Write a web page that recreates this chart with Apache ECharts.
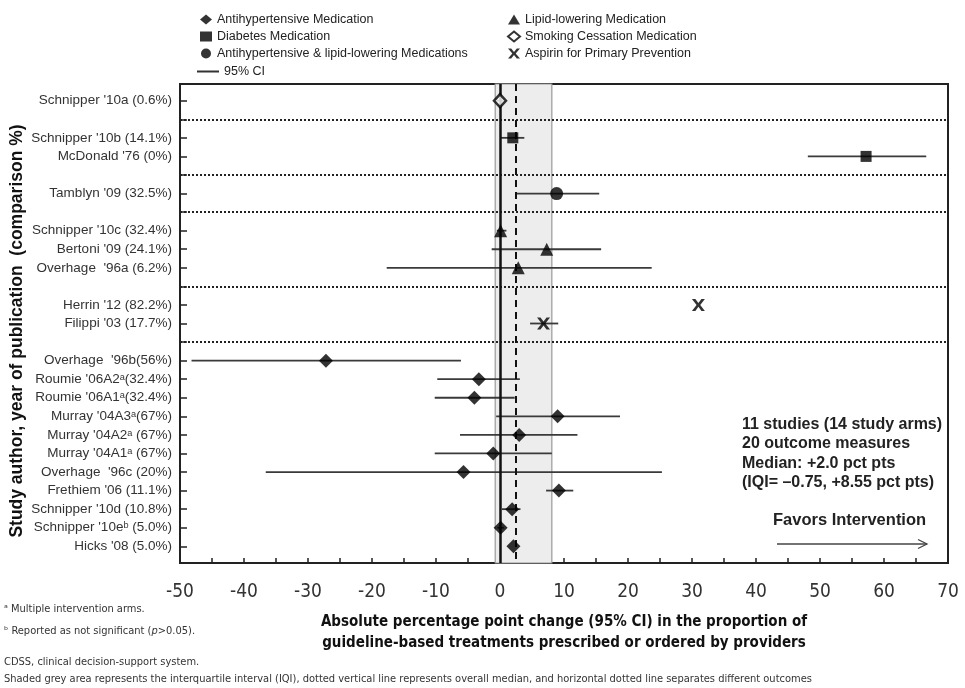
<!DOCTYPE html>
<html>
<head>
<meta charset="utf-8">
<script src="https://cdn.jsdelivr.net/npm/echarts@6/dist/echarts.min.js"></script>
<style>
html,body{margin:0;padding:0;background:#fff;}
#chart{width:965px;height:688px;}
</style>
</head>
<body>
<div id="chart"></div>
<script>
// ---- data (rows top to bottom; '' = separator between outcome groups) ----
const rowLabels = [
  "Schnipper '10a (0.6%)", "",
  "Schnipper '10b (14.1%)", "McDonald '76 (0%)", "",
  "Tamblyn '09 (32.5%)", "",
  "Schnipper '10c (32.4%)", "Bertoni '09 (24.1%)", "Overhage  '96a (6.2%)", "",
  "Herrin '12 (82.2%)", "Filippi '03 (17.7%)", "",
  "Overhage  '96b(56%)", "Roumie '06A2\u1d43(32.4%)", "Roumie '06A1\u1d43(32.4%)",
  "Murray '04A3\u1d43(67%)", "Murray '04A2\u1d43 (67%)", "Murray '04A1\u1d43 (67%)",
  "Overhage  '96c (20%)", "Frethiem '06 (11.1%)", "Schnipper '10d (10.8%)",
  "Schnipper '10e\u1d47 (5.0%)", "Hicks '08 (5.0%)"
];
const medication = [
  'smoke', null,
  'diab', 'diab', null,
  'both', null,
  'lipid', 'lipid', 'lipid', null,
  'asp', 'asp', null,
  'anti', 'anti', 'anti', 'anti', 'anti', 'anti', 'anti', 'anti', 'anti', 'anti', 'anti'
];
const estimate = [0.0, null, 2.0, 57.2, null, 8.85, null, 0.1, 7.3, 2.85, null, 31.0, 6.8, null,
  -27.2, -3.3, -4.0, 9.0, 3.0, -1.05, -5.7, 9.2, 1.9, 0.1, 2.1];
const ciLower = [-0.5, null, 0.0, 48.1, null, 2.5, null, -0.5, -1.3, -17.7, null, null, 4.7, null,
  -48.2, -9.8, -10.2, -0.6, -6.25, -10.2, -36.6, 7.2, 0.3, -0.4, null];
const ciUpper = [0.5, null, 3.8, 66.6, null, 15.5, null, 1.0, 15.8, 23.7, null, null, 9.1, null,
  -6.1, 3.1, 2.3, 18.75, 12.1, 8.1, 25.3, 11.45, 3.2, 0.6, null];
const iqrRange = [-0.75, 8.1];
const medianValue = 2.4;
const xTickValues = [-50, -40, -30, -20, -10, 0, 10, 20, 30, 40, 50, 60, 70];
const medNames = {
  anti: 'Antihypertensive Medication',
  diab: 'Diabetes Medication',
  both: 'Antihypertensive & lipid-lowering Medications',
  lipid: 'Lipid-lowering Medication',
  smoke: 'Smoking Cessation Medication',
  asp: 'Aspirin for Primary Prevention'
};
const summaryLines = ['11 studies (14 study arms)', '20 outcome measures', 'Median: +2.0 pct pts', '(IQI= \u20130.75, +8.55 pct pts)'];

// ---- build ----
const NARROW = "'DejaVu Sans Condensed','Liberation Sans',sans-serif";
const SANS = "'Liberation Sans',Arial,sans-serif";
const allRows = rowLabels.map((_, i) => i);
const studyRows = allRows.filter(i => rowLabels[i] !== '');
const sepRows = allRows.filter(i => rowLabels[i] === '');

const symbols = {
  anti: {symbol: 'diamond', symbolSize: [14, 14], itemStyle: {color: '#000'}},
  diab: {symbol: 'rect', symbolSize: [11, 11], itemStyle: {color: '#000'}},
  both: {symbol: 'circle', symbolSize: 13, itemStyle: {color: '#000'}},
  lipid: {symbol: 'triangle', symbolSize: [13, 13], itemStyle: {color: '#000'}},
  smoke: {symbol: 'diamond', symbolSize: [12, 13], itemStyle: {color: '#fff', borderColor: '#000', borderWidth: 2.5}},
  asp: {symbol: 'path://M0,0 L3.2,0 L6,3.4 L8.8,0 L12,0 L7.7,5 L12,10 L8.8,10 L6,6.6 L3.2,10 L0,10 L4.3,5 Z', symbolSize: [13, 12], itemStyle: {color: '#000'}}
};

const markerSeries = Object.keys(medNames).map(k => ({
  name: medNames[k],
  type: 'scatter',
  z: 5,
  symbol: symbols[k].symbol,
  symbolSize: symbols[k].symbolSize,
  itemStyle: symbols[k].itemStyle,
  data: allRows.filter(i => medication[i] === k).map(i => [estimate[i], i])
}));

const ciData = allRows.filter(i => ciLower[i] !== null).map(i => [i, ciLower[i], ciUpper[i]]);

const legendText = {fontFamily: SANS, fontSize: 12.5, color: '#222', lineHeight: 17};

const chart = echarts.init(document.getElementById('chart'), null, {renderer: 'canvas'});
chart.setOption({
  animation: false,
  backgroundColor: '#fff',
  grid: {left: 180, top: 84, width: 768, height: 479, show: true, borderColor: '#222', borderWidth: 2, backgroundColor: 'transparent'},
  legend: [
    {orient: 'vertical', left: 195, top: 6, itemWidth: 12, itemHeight: 10, itemGap: 0, selectedMode: false,
      data: [medNames.anti, medNames.diab, medNames.both], textStyle: legendText},
    {orient: 'vertical', left: 502, top: 6, itemWidth: 12, itemHeight: 10, itemGap: 0, selectedMode: false,
      data: [medNames.lipid, medNames.smoke, medNames.asp], textStyle: legendText},
    {orient: 'vertical', left: 192, top: 58, itemWidth: 22, itemHeight: 2, itemGap: 0, selectedMode: false,
      data: [{name: '95% CI', icon: 'rect'}], textStyle: legendText}
  ],
  xAxis: {
    type: 'value', min: -50, max: 70, interval: 5,
    axisLine: {show: true, onZero: false, lineStyle: {color: '#222', width: 2}},
    axisTick: {show: true, inside: true, length: 5, lineStyle: {color: '#222', width: 1.5}},
    splitLine: {show: false},
    axisLabel: {margin: 20, fontFamily: NARROW, fontSize: 19, color: '#333',
      formatter: v => xTickValues.indexOf(v) >= 0 ? String(v) : ''},
    name: 'Absolute percentage point change (95% CI) in the proportion of\nguideline-based treatments prescribed or ordered by providers',
    nameLocation: 'middle', nameGap: 49,
    nameTextStyle: {fontFamily: NARROW, fontWeight: 'bold', fontSize: 15, color: '#111', lineHeight: 21, align: 'center'}
  },
  yAxis: {
    type: 'value', inverse: true, min: -0.9, max: 24.9,
    axisLine: {show: true, onZero: false, lineStyle: {color: '#222', width: 2}},
    axisTick: {show: true, inside: true, length: 7, customValues: allRows, lineStyle: {color: '#222', width: 1.5}},
    splitLine: {show: false},
    axisLabel: {margin: 8, customValues: studyRows, fontFamily: SANS, fontSize: 13.5, color: '#333',
      formatter: v => rowLabels[Math.round(v)] || ''}
  },
  graphic: [
    {type: 'text', x: 17, y: 331, rotation: Math.PI / 2,
      style: {text: 'Study author, year of publication  (comparison %)', fontFamily: SANS, fontWeight: 'bold', fontSize: 17.5, fill: '#111', align: 'center', verticalAlign: 'middle'}},
    {type: 'text', x: 742, y: 415,
      style: {text: summaryLines.join('\n'), fontFamily: SANS, fontWeight: 'bold', fontSize: 16, lineHeight: 19.3, fill: '#222', align: 'left', verticalAlign: 'top'}},
    {type: 'text', x: 773, y: 520,
      style: {text: 'Favors Intervention', fontFamily: SANS, fontWeight: 'bold', fontSize: 16.5, fill: '#222', align: 'left', verticalAlign: 'middle'}},
    {type: 'polyline', shape: {points: [[777, 544], [927, 544]]}, style: {stroke: '#444', lineWidth: 1.3}},
    {type: 'polyline', shape: {points: [[918, 539.5], [927, 544], [918, 548.5]]}, style: {stroke: '#444', lineWidth: 1.3, fill: null}},
    {type: 'text', x: 4, y: 609,
      style: {text: '\u1d43 Multiple intervention arms.', fontFamily: NARROW, fontSize: 11, fill: '#333', verticalAlign: 'middle'}},
    {type: 'text', x: 4, y: 631,
      style: {text: '{n|\u1d47 Reported as not significant (}{i|p}{n|>0.05).}', verticalAlign: 'middle',
        rich: {n: {fontFamily: NARROW, fontSize: 11, fill: '#333'}, i: {fontFamily: NARROW, fontSize: 11, fontStyle: 'italic', fill: '#333'}}}},
    {type: 'text', x: 4, y: 662,
      style: {text: 'CDSS, clinical decision-support system.', fontFamily: NARROW, fontSize: 11, fill: '#333', verticalAlign: 'middle'}},
    {type: 'text', x: 4, y: 679,
      style: {text: 'Shaded grey area represents the interquartile interval (IQI), dotted vertical line represents overall median, and horizontal dotted line separates different outcomes', fontFamily: NARROW, fontSize: 11, fill: '#333', verticalAlign: 'middle'}}
  ],
  series: [
    {
      name: 'reference', type: 'scatter', data: [], z: 1, silent: true,
      markArea: {silent: true, itemStyle: {color: '#ededed', borderColor: '#9a9a9a', borderWidth: 1.2},
        data: [[{xAxis: iqrRange[0]}, {xAxis: iqrRange[1]}]]},
      markLine: {silent: true, symbol: 'none', label: {show: false},
        data: sepRows.map(r => ({yAxis: r, lineStyle: {color: '#222', width: 2, type: [2, 2]}}))
          .concat([
            {xAxis: 0, lineStyle: {color: '#111', width: 2.5, type: 'solid'}},
            {xAxis: medianValue, lineStyle: {color: '#111', width: 2, type: [7, 5]}}
          ])}
    },
    {
      name: '95% CI', type: 'custom', z: 3,
      itemStyle: {color: '#333'},
      encode: {x: [1, 2], y: 0},
      data: ciData,
      renderItem: function (params, api) {
        const row = api.value(0);
        const p1 = api.coord([api.value(1), row]);
        const p2 = api.coord([api.value(2), row]);
        return {type: 'line', shape: {x1: p1[0], y1: p1[1], x2: p2[0], y2: p2[1]},
          style: {stroke: '#3a3a3a', lineWidth: 1.8}};
      }
    }
  ].concat(markerSeries)
});
</script>
</body>
</html>
